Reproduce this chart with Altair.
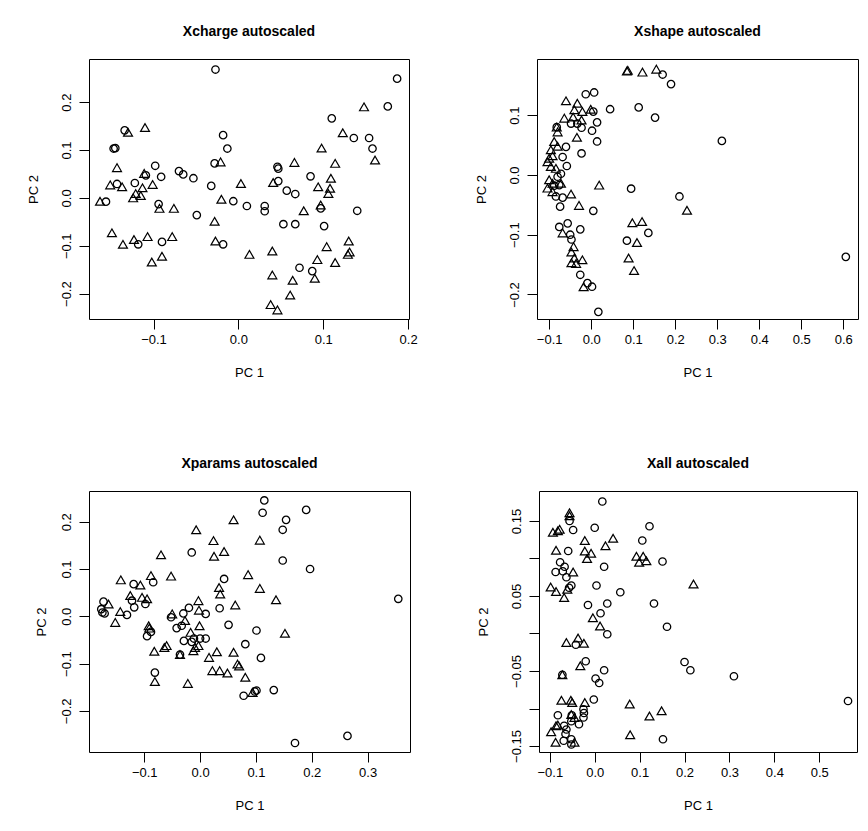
import altair as alt
import pandas as pd

FONT = "Liberation Sans"

# ---------------- Xcharge autoscaled ----------------
charge_circ_x = [-0.027, -0.134, -0.147, -0.145, -0.018, -0.013, -0.098, -0.028, -0.070, -0.065, -0.053, -0.091, -0.143, -0.122, -0.032, -0.156, -0.006, -0.094, -0.049, -0.118, -0.090, -0.018, 0.053, 0.067, 0.101, 0.072, 0.087, 0.187, 0.176, 0.110, 0.136, 0.154, 0.158, 0.046, 0.047, 0.047, 0.085, 0.057, 0.067, 0.010, 0.031, 0.031, 0.097, 0.140, -0.109]
charge_circ_y = [0.268, 0.141, 0.103, 0.104, 0.131, 0.103, 0.067, 0.072, 0.056, 0.049, 0.041, 0.044, 0.029, 0.031, 0.025, -0.008, -0.007, -0.013, -0.036, -0.097, -0.092, -0.097, -0.055, -0.055, -0.059, -0.146, -0.153, 0.249, 0.191, 0.166, 0.125, 0.125, 0.103, 0.065, 0.061, 0.035, 0.045, 0.015, 0.008, -0.017, -0.017, -0.028, -0.022, -0.027, 0.047]
charge_tri_x = [-0.130, -0.110, -0.143, -0.021, -0.111, -0.151, -0.137, -0.113, -0.101, -0.121, -0.124, -0.115, -0.163, -0.020, -0.093, -0.076, -0.028, -0.149, -0.136, -0.123, -0.107, -0.078, -0.027, -0.102, -0.090, 0.013, 0.040, 0.040, 0.038, 0.046, 0.064, 0.061, 0.090, 0.093, 0.104, 0.114, 0.130, 0.131, 0.129, 0.148, 0.123, 0.098, 0.066, 0.114, 0.161, 0.003, 0.041, 0.109, 0.094, 0.108, 0.106, 0.077, 0.097]
charge_tri_y = [0.137, 0.147, 0.063, 0.075, 0.051, 0.027, 0.023, 0.021, 0.028, 0.009, 0.000, 0.005, -0.007, -0.003, -0.022, -0.022, -0.049, -0.073, -0.097, -0.087, -0.081, -0.081, -0.090, -0.134, -0.122, -0.118, -0.111, -0.161, -0.223, -0.234, -0.172, -0.203, -0.168, -0.129, -0.102, -0.135, -0.090, -0.113, -0.118, 0.190, 0.136, 0.104, 0.074, 0.072, 0.079, 0.030, 0.032, 0.041, 0.023, 0.020, 0.009, -0.027, -0.015]

# ---------------- Xshape autoscaled ----------------
shape_circ_x = [0.170, 0.190, 0.311, 0.210, 0.606, -0.013, 0.007, 0.045, 0.113, 0.152, 0.005, -0.048, -0.033, -0.023, 0.002, 0.014, 0.014, -0.023, -0.082, -0.060, -0.068, -0.058, -0.072, -0.088, -0.076, -0.084, -0.074, -0.068, 0.095, 0.005, -0.076, -0.056, -0.026, -0.050, -0.047, -0.026, -0.009, 0.002, 0.136, 0.085, 0.017, -0.080]
shape_circ_y = [0.168, 0.152, 0.057, -0.036, -0.137, 0.135, 0.138, 0.110, 0.113, 0.096, 0.106, 0.086, 0.086, 0.079, 0.074, 0.088, 0.056, 0.036, 0.080, 0.047, 0.030, 0.015, 0.002, -0.018, -0.017, -0.036, -0.053, -0.038, -0.023, -0.060, -0.087, -0.081, -0.091, -0.100, -0.108, -0.167, -0.181, -0.187, -0.097, -0.110, -0.229, -0.003]
shape_tri_x = [0.085, 0.087, 0.122, 0.155, 0.228, -0.060, -0.033, -0.040, -0.021, -0.001, -0.043, -0.023, -0.034, -0.064, -0.082, -0.080, -0.088, -0.080, -0.100, -0.092, -0.096, -0.084, -0.100, -0.104, -0.092, -0.072, -0.048, 0.019, -0.029, -0.068, -0.042, -0.047, -0.040, -0.021, -0.047, -0.018, 0.098, 0.121, 0.109, 0.089, 0.102, -0.104, -0.096, -0.092, -0.036]
shape_tri_y = [0.174, 0.175, 0.172, 0.177, -0.059, 0.124, 0.120, 0.109, 0.106, 0.110, 0.097, 0.092, 0.063, 0.095, 0.080, 0.072, 0.056, 0.048, 0.028, 0.032, 0.014, 0.011, -0.008, -0.022, -0.014, -0.014, -0.032, -0.017, -0.051, -0.097, -0.120, -0.129, -0.139, -0.142, -0.147, -0.187, -0.080, -0.078, -0.113, -0.139, -0.160, 0.022, 0.042, -0.028, -0.148]

# ---------------- Xparams autoscaled ----------------
params_circ_x = [-0.015, -0.084, -0.119, 0.043, -0.122, -0.098, -0.173, -0.177, -0.175, -0.171, -0.131, -0.118, 0.035, -0.020, -0.030, -0.052, 0.010, -0.033, -0.042, 0.051, -0.088, -0.095, -0.011, 0.000, 0.010, -0.029, -0.015, -0.036, 0.081, -0.081, 0.078, 0.098, 0.101, 0.132, 0.170, 0.264, 0.109, 0.115, 0.112, 0.190, 0.154, 0.148, 0.148, 0.197, 0.355, 0.101]
params_circ_y = [0.135, 0.072, 0.068, 0.079, 0.033, 0.026, 0.031, 0.015, 0.008, 0.006, 0.003, 0.019, 0.017, 0.018, 0.006, -0.002, 0.005, -0.020, -0.025, -0.018, -0.033, -0.042, -0.047, -0.047, -0.047, -0.052, -0.054, -0.081, -0.059, -0.119, -0.168, -0.159, -0.157, -0.156, -0.268, -0.253, -0.088, 0.245, 0.219, 0.225, 0.204, 0.183, 0.118, 0.100, 0.037, -0.030]
params_tri_x = [0.060, -0.007, 0.024, 0.025, 0.043, -0.070, -0.088, -0.052, -0.142, -0.107, 0.034, 0.036, -0.125, -0.104, -0.095, -0.164, -0.143, -0.152, -0.003, -0.002, -0.050, 0.063, -0.027, -0.001, -0.092, -0.091, -0.017, -0.009, -0.003, -0.012, -0.082, -0.064, -0.060, -0.036, 0.016, 0.030, 0.060, 0.067, 0.070, 0.022, 0.035, 0.049, 0.081, -0.081, -0.022, 0.107, 0.086, 0.107, 0.136, 0.152, 0.094]
params_tri_y = [0.204, 0.183, 0.160, 0.127, 0.137, 0.130, 0.086, 0.085, 0.077, 0.066, 0.061, 0.047, 0.044, 0.040, 0.037, 0.026, 0.010, -0.013, 0.033, 0.013, 0.005, 0.024, -0.009, -0.020, -0.020, -0.025, -0.034, -0.066, -0.062, -0.073, -0.074, -0.066, -0.062, -0.081, -0.087, -0.075, -0.076, -0.101, -0.105, -0.115, -0.115, -0.120, -0.129, -0.138, -0.142, 0.161, 0.088, 0.059, 0.035, -0.036, -0.161]

# ---------------- Xall autoscaled ----------------
all_circ_x = [0.017, -0.056, -0.048, 0.000, 0.122, 0.106, -0.059, 0.151, -0.077, -0.067, -0.087, -0.071, -0.063, -0.052, -0.057, 0.021, 0.004, 0.057, -0.015, 0.028, 0.132, 0.013, 0.028, 0.161, -0.042, -0.020, -0.072, 0.021, 0.002, 0.010, 0.200, 0.213, 0.310, 0.564, -0.002, -0.025, -0.024, -0.025, -0.051, -0.052, -0.035, -0.082, -0.068, -0.063, -0.065, -0.069, -0.052, -0.052, 0.152]
all_circ_y = [0.176, 0.150, 0.138, 0.141, 0.143, 0.124, 0.110, 0.096, 0.095, 0.089, 0.082, 0.083, 0.075, 0.064, 0.061, 0.089, 0.064, 0.055, 0.038, 0.040, 0.040, 0.027, -0.001, 0.009, -0.015, -0.037, -0.055, -0.049, -0.060, -0.066, -0.038, -0.049, -0.057, -0.090, -0.088, -0.101, -0.106, -0.112, -0.109, -0.117, -0.121, -0.109, -0.123, -0.128, -0.134, -0.143, -0.141, -0.148, -0.141]
all_tri_x = [-0.056, -0.056, -0.093, -0.082, -0.078, 0.041, -0.022, 0.024, -0.086, -0.022, -0.008, -0.017, 0.093, 0.108, 0.099, 0.115, -0.048, -0.098, -0.086, -0.068, -0.061, -0.004, 0.012, -0.063, -0.037, -0.024, -0.032, -0.072, -0.074, -0.053, -0.050, -0.022, -0.052, -0.045, -0.082, -0.097, -0.086, -0.087, -0.045, 0.078, 0.122, 0.149, 0.079, 0.220]
all_tri_y = [0.161, 0.157, 0.135, 0.137, 0.139, 0.127, 0.124, 0.117, 0.111, 0.110, 0.107, 0.100, 0.103, 0.103, 0.095, 0.097, 0.082, 0.062, 0.056, 0.048, 0.059, 0.021, 0.010, -0.012, -0.006, -0.013, -0.043, -0.055, -0.089, -0.089, -0.092, -0.092, -0.108, -0.112, -0.122, -0.131, -0.123, -0.145, -0.145, -0.094, -0.110, -0.103, -0.135, 0.066]


def panel(title, cx, cy, tx, ty, xdom, ydom, xticks, yticks, yfmt, w, h,
          ytitlepad=20, ylabelexpr=None):
    xaxis = alt.Axis(values=xticks, format=".1f", labelPadding=4, titlePadding=20)
    yargs = dict(values=yticks, format=yfmt, labelAngle=270, labelPadding=6,
                 titlePadding=ytitlepad)
    if ylabelexpr:
        yargs["labelExpr"] = ylabelexpr
    yaxis = alt.Axis(**yargs)
    xenc = alt.X("PC1:Q", title="PC 1", scale=alt.Scale(domain=xdom, nice=False, zero=False), axis=xaxis)
    yenc = alt.Y("PC2:Q", title="PC 2", scale=alt.Scale(domain=ydom, nice=False, zero=False), axis=yaxis)
    circ = alt.Chart(pd.DataFrame({"PC1": cx, "PC2": cy})).mark_point(
        shape="circle", filled=False, color="black", size=55, strokeWidth=1.3, opacity=1
    ).encode(x=xenc, y=yenc)
    tri = alt.Chart(pd.DataFrame({"PC1": tx, "PC2": ty})).mark_point(
        shape="triangle-up", filled=False, color="black", size=80, strokeWidth=1.2, opacity=1
    ).encode(x=xenc, y=yenc)
    return alt.layer(circ, tri).properties(width=w, height=h, title=title)


p1 = panel("Xcharge autoscaled", charge_circ_x, charge_circ_y, charge_tri_x, charge_tri_y,
           [-0.176, 0.201], [-0.253, 0.290], [-0.1, 0.0, 0.1, 0.2],
           [-0.2, -0.1, 0.0, 0.1, 0.2], ".1f", 320, 260, ytitlepad=20)
p2 = panel("Xshape autoscaled", shape_circ_x, shape_circ_y, shape_tri_x, shape_tri_y,
           [-0.129, 0.635], [-0.241, 0.194], [-0.1, 0.0, 0.1, 0.2, 0.3, 0.4, 0.5, 0.6],
           [-0.2, -0.1, 0.0, 0.1], ".1f", 321, 260, ytitlepad=20)
p3 = panel("Xparams autoscaled", params_circ_x, params_circ_y, params_tri_x, params_tri_y,
           [-0.199, 0.376], [-0.287, 0.265], [-0.1, 0.0, 0.1, 0.2, 0.3],
           [-0.2, -0.1, 0.0, 0.1, 0.2], ".1f", 321, 261, ytitlepad=12)
p4 = panel("Xall autoscaled", all_circ_x, all_circ_y, all_tri_x, all_tri_y,
           [-0.124, 0.584], [-0.158, 0.190], [-0.1, 0.0, 0.1, 0.2, 0.3, 0.4, 0.5],
           [-0.15, -0.10, -0.05, 0.0, 0.05, 0.10, 0.15], ".2f", 318, 261, ytitlepad=20,
           ylabelexpr="(round(abs(datum.value) * 100) % 10 == 5) ? format(datum.value, '.2f') : ''")

row1 = alt.hconcat(p1, p2, spacing=56)
row2 = alt.hconcat(p3, p4, spacing=65)

chart = alt.vconcat(row1, row2, spacing=76).properties(
    padding={"left": 18, "top": 16, "right": 0, "bottom": 0}
).configure_view(
    stroke="black", strokeWidth=1
).configure_axis(
    domain=False, grid=False, tickColor="black", tickSize=10, tickWidth=1,
    labelColor="black", labelFont=FONT, labelFontSize=13,
    titleFont=FONT, titleFontSize=13, titleFontWeight="normal", titleColor="black",
    labelOverlap=False, labelFlush=False
).configure_title(
    font=FONT, fontSize=14, fontWeight="bold", color="black", anchor="middle", offset=20
)

chart.save("out.html", embed_options={"renderer": "svg", "actions": False})
